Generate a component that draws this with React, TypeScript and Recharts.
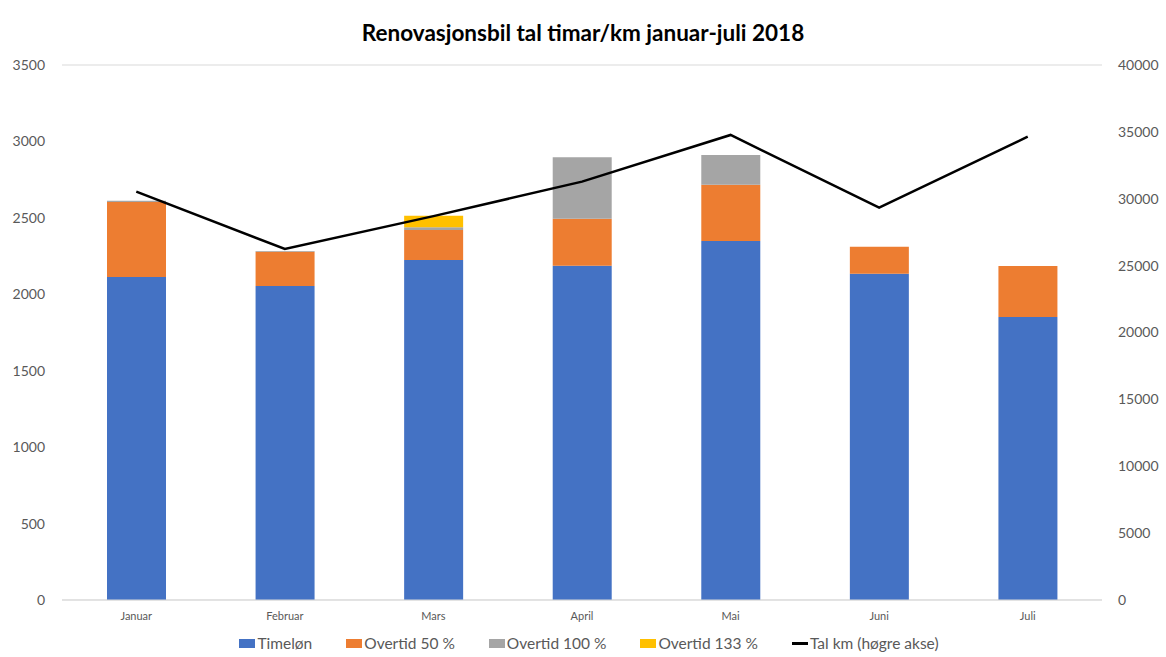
import { ComposedChart, Bar, Line, XAxis, YAxis, CartesianGrid, Legend } from 'recharts';

const months = ['Januar', 'Februar', 'Mars', 'April', 'Mai', 'Juni', 'Juli'];
const timelon = [2113, 2054, 2224, 2187, 2349, 2135, 1851];
const overtid50 = [491, 225, 196, 307, 368, 176, 334];
const overtid100 = [8, 4, 18, 402, 194, 0, 0];
const overtid133 = [0, 0, 76, 0, 0, 0, 0];
const talKm = [30530, 26240, 28700, 31280, 34770, 29330, 34640];

const leftTicks = [0, 500, 1000, 1500, 2000, 2500, 3000, 3500];
const rightTicks = [0, 5000, 10000, 15000, 20000, 25000, 30000, 35000, 40000];

const legendOrder = ['Timeløn', 'Overtid 50 %', 'Overtid 100 %', 'Overtid 133 %', 'Tal km (høgre akse)'];

const data = months.map((m, i) => ({
  month: m,
  timelon: timelon[i],
  o50: overtid50[i],
  o100: overtid100[i],
  o133: overtid133[i],
  km: talKm[i],
}));

const font = 'Lato, "Open Sans", sans-serif';

function renderLegend(props: any) {
  const items = [...(props.payload || [])].sort(
    (a: any, b: any) => legendOrder.indexOf(a.value) - legendOrder.indexOf(b.value)
  );
  return (
    <div style={{ display: 'flex', justifyContent: 'center', alignItems: 'center', gap: 34, paddingTop: 9, marginLeft: 12, fontSize: 15.5, fontFamily: font, color: '#595959' }}>
      {items.map((it: any) => (
        <div key={it.value} style={{ display: 'flex', alignItems: 'center' }}>
          {it.type === 'line' ? (
            <span style={{ display: 'inline-block', width: 16, height: 3, background: it.color, marginRight: 2 }} />
          ) : (
            <span style={{ display: 'inline-block', width: 16, height: 9, background: it.color, marginRight: 2 }} />
          )}
          <span>{it.value}</span>
        </div>
      ))}
    </div>
  );
}

export default function App() {
  return (
    <div style={{ position: 'absolute', left: 0, top: 0, width: 1166, height: 657, background: '#fff', fontFamily: font }}>
      <div style={{ position: 'absolute', top: 19, left: 0, width: 1166, textAlign: 'center', fontSize: 22.5, fontWeight: 700, color: '#000' }}>
        Renovasjonsbil tal timar/km januar-juli 2018
      </div>
      <ComposedChart width={1166} height={657} data={data} margin={{ top: 65, right: 0, left: 0, bottom: 0 }}>
        <CartesianGrid vertical={false} stroke="#d9d9d9" strokeWidth={1} />
        <XAxis
          dataKey="month"
          axisLine={{ stroke: '#d9d9d9' }}
          tickLine={false}
          tick={{ fill: '#595959', fontSize: 11, fontFamily: font }}
          tickMargin={6}
          height={25}
        />
        <YAxis
          yAxisId="left"
          domain={[0, 3500]}
          ticks={leftTicks}
          axisLine={false}
          tickLine={false}
          tickSize={0}
          tickMargin={17}
          width={62}
          tick={{ fill: '#595959', fontSize: 14, fontFamily: font }}
        />
        <YAxis
          yAxisId="right"
          orientation="right"
          domain={[0, 40000]}
          ticks={rightTicks}
          axisLine={false}
          tickLine={false}
          tickSize={0}
          tickMargin={16}
          width={64}
          tick={{ fill: '#595959', fontSize: 14, fontFamily: font, textAnchor: 'start' }}
        />
        <Legend verticalAlign="bottom" height={32} content={renderLegend} />
        <Bar yAxisId="left" dataKey="timelon" name="Timeløn" stackId="a" fill="#4472c4" barSize={59} legendType="rect" isAnimationActive={false} />
        <Bar yAxisId="left" dataKey="o50" name="Overtid 50 %" stackId="a" fill="#ed7d31" barSize={59} legendType="rect" isAnimationActive={false} />
        <Bar yAxisId="left" dataKey="o100" name="Overtid 100 %" stackId="a" fill="#a5a5a5" barSize={59} legendType="rect" isAnimationActive={false} />
        <Bar yAxisId="left" dataKey="o133" name="Overtid 133 %" stackId="a" fill="#ffc000" barSize={59} legendType="rect" isAnimationActive={false} />
        <Line yAxisId="right" dataKey="km" name="Tal km (høgre akse)" stroke="#000" strokeWidth={2.5} dot={false} legendType="line" type="linear" isAnimationActive={false} />
      </ComposedChart>
    </div>
  );
}
